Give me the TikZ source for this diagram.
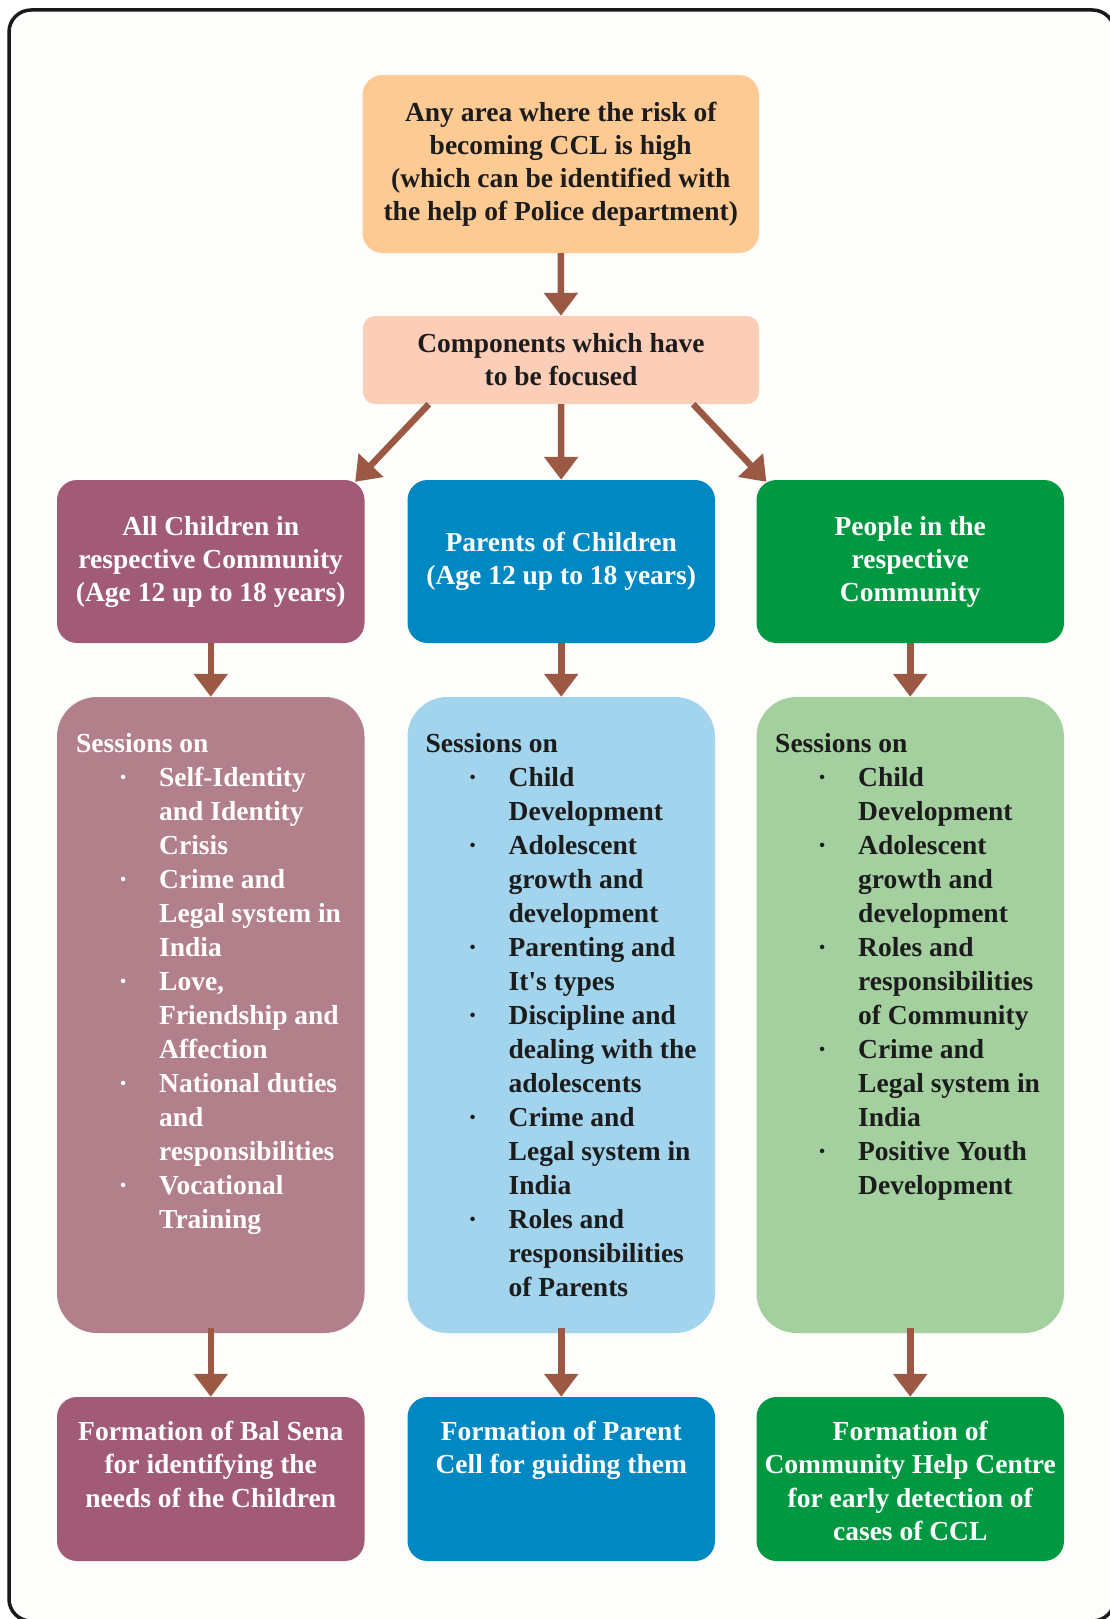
\documentclass[tikz,border=0pt]{standalone}
\usepackage{fontspec}
\setmainfont{Liberation Serif}
\usetikzlibrary{arrows.meta,calc}

\definecolor{paper}{HTML}{FDFDFB}
\definecolor{framec}{HTML}{1A1A1A}
\definecolor{peach}{HTML}{FDCA94}
\definecolor{salmon}{HTML}{FCCDB7}
\definecolor{plum}{HTML}{A15B77}
\definecolor{plumlight}{HTML}{B1808B}
\definecolor{ocean}{HTML}{0088C3}
\definecolor{oceanlight}{HTML}{A2D4ED}
\definecolor{leaf}{HTML}{009942}
\definecolor{leaflight}{HTML}{A4CF9F}
\definecolor{arrowc}{HTML}{9B5843}
\definecolor{ink}{HTML}{1C1C1C}

% fonts for the boxes
\newcommand\boxfont{\fontsize{27.5}{33}\selectfont\bfseries}
\newcommand\listfont{\fontsize{27.5}{34}\selectfont\bfseries}
\newcommand\formfont{\fontsize{27.5}{33.5}\selectfont\bfseries}
% bullet line and continuation line of a session list
\newcommand\sitem[1]{\hspace*{42.3pt}\makebox[40.7pt][l]{·}#1}
\newcommand\sline[1]{\hspace*{83pt}#1}

\begin{document}
\begin{tikzpicture}[x=1pt,y=-1pt,
  box/.style={rectangle, rounded corners=20pt, inner sep=0pt, align=center, font=\boxfont},
  toprow/.style={box, minimum width=307.5pt, minimum height=163pt, text=white},
  sessbox/.style={rectangle, rounded corners=40pt, inner sep=0pt, minimum width=307.5pt, minimum height=636pt},
  formbox/.style={rectangle, rounded corners=20pt, inner sep=0pt, minimum width=307.5pt, minimum height=164pt},
  listtext/.style={anchor=north west, inner sep=0pt, align=left, font=\listfont},
  formtext/.style={anchor=north, inner sep=0pt, align=center, font=\formfont, text=white},
  flow/.style={draw=arrowc, line width=6.5pt, -{Triangle[width=33pt,length=23pt]}}]

% page and outer frame
\fill[white] (0,0) rectangle (1110,1619);
\useasboundingbox (0,0) rectangle (1110,1619);
\filldraw[fill=paper, draw=framec, line width=3.5pt, rounded corners=22pt] (9,10) rectangle (1114.5,1621);

% top of the chart
\node[box, fill=peach, text=ink, minimum width=396.5pt, minimum height=178pt] (risk) at (560.75,164)
  {Any area where the risk of\\becoming CCL is high\\(which can be identified with\\the help of Police department)};
\node[box, rounded corners=12pt, fill=salmon, text=ink, minimum width=396pt, minimum height=88pt] (focus) at (561,360)
  {Components which have\\to be focused};

% target groups
\node[toprow, fill=plum] (kids) at (210.75,561.5)
  {All Children in\\respective Community\\(Age 12 up to 18 years)};
\node[toprow, fill=ocean] (parents) at (561.25,561.5)
  {Parents of Children\\(Age 12 up to 18 years)};
\node[toprow, fill=leaf] (people) at (910.25,561.5)
  {People in the\\respective\\Community};

% session boxes
\node[sessbox, fill=plumlight] (kidsS) at (210.75,1015) {};
\node[sessbox, fill=oceanlight] (parentsS) at (561.25,1015) {};
\node[sessbox, fill=leaflight] (peopleS) at (910.25,1015) {};

\node[listtext, text=white] (kidsList) at (76,728.9)
  {\strut Sessions on\\
   \sitem{Self-Identity}\\ \sline{and Identity}\\ \sline{Crisis}\\
   \sitem{Crime and}\\ \sline{Legal system in}\\ \sline{India}\\
   \sitem{Love,}\\ \sline{Friendship and}\\ \sline{Affection}\\
   \sitem{National duties}\\ \sline{and}\\ \sline{responsibilities}\\
   \sitem{Vocational}\\ \sline{Training}};
\node[listtext, text=ink] (parentsList) at (425.5,728.9)
  {\strut Sessions on\\
   \sitem{Child}\\ \sline{Development}\\
   \sitem{Adolescent}\\ \sline{growth and}\\ \sline{development}\\
   \sitem{Parenting and}\\ \sline{It\textquotesingle s types}\\
   \sitem{Discipline and}\\ \sline{dealing with the}\\ \sline{adolescents}\\
   \sitem{Crime and}\\ \sline{Legal system in}\\ \sline{India}\\
   \sitem{Roles and}\\ \sline{responsibilities}\\ \sline{of Parents}};
\node[listtext, text=ink] (peopleList) at (775,728.9)
  {\strut Sessions on\\
   \sitem{Child}\\ \sline{Development}\\
   \sitem{Adolescent}\\ \sline{growth and}\\ \sline{development}\\
   \sitem{Roles and}\\ \sline{responsibilities}\\ \sline{of Community}\\
   \sitem{Crime and}\\ \sline{Legal system in}\\ \sline{India}\\
   \sitem{Positive Youth}\\ \sline{Development}};

% resulting formations
\node[formbox, fill=plum] (kidsF) at (210.75,1479) {};
\node[formbox, fill=ocean] (parentsF) at (561.25,1479) {};
\node[formbox, fill=leaf] (peopleF) at (910.25,1479) {};
\node[formtext] (kidsFT) at (210.75,1416.5)
  {\strut Formation of Bal Sena\\for identifying the\\needs of the Children};
\node[formtext] (parentsFT) at (561.25,1416.5)
  {\strut Formation of Parent\\Cell for guiding them};
\node[formtext] (peopleFT) at (910.25,1416.5)
  {\strut Formation of\\Community Help Centre\\for early detection of\\cases of CCL};

% connectors
\coordinate (focusL) at ($(focus.south west)+(66,0)$);
\coordinate (focusR) at ($(focus.south east)+(-66,0)$);
\coordinate (kidsTip) at ($(kids.north east)+(-9.5,2)$);
\coordinate (peopleTip) at ($(people.north west)+(10,2)$);

\draw[flow] (risk.south) -- (focus.north);
\draw[flow] (focus.south) -- (parents.north);
\draw[flow] (focusL) -- (kidsTip);
\draw[flow] (focusR) -- (peopleTip);

\draw[flow] (kids.south) -- (kidsS.north);
\draw[flow] (parents.south) -- (parentsS.north);
\draw[flow] (people.south) -- (peopleS.north);

\draw[flow] ($(kidsS.south)+(0,-5)$) -- (kidsF.north);
\draw[flow] ($(parentsS.south)+(0,-5)$) -- (parentsF.north);
\draw[flow] ($(peopleS.south)+(0,-5)$) -- (peopleF.north);
\end{tikzpicture}
\end{document}
